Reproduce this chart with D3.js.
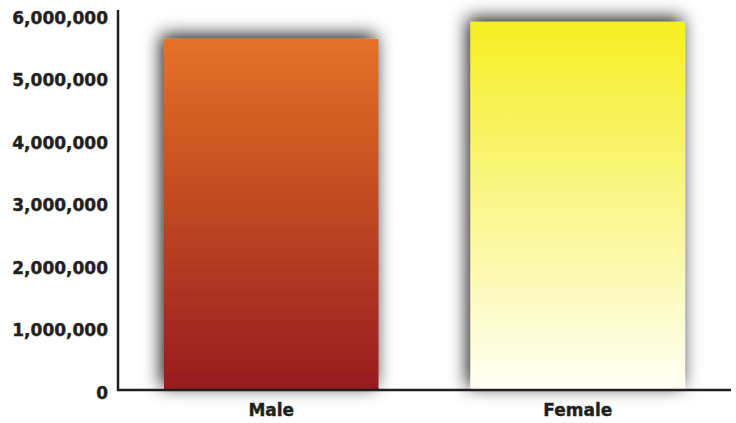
<!DOCTYPE html>
<html>
<head>
<meta charset="utf-8">
<script src="https://cdn.jsdelivr.net/npm/d3@7"></script>
<style>
  body { margin: 0; background: #fff; }
  .tick-label, .cat-label { font-family: "DejaVu Sans", sans-serif; font-weight: bold; fill: #231f20; }
</style>
</head>
<body>
<div class="container"></div>
<script>
// chart data
var categories = ['Male', 'Female'];
var population = [5620000, 5890000];
var tickValues = [0, 1000000, 2000000, 3000000, 4000000, 5000000, 6000000];
var gradients = [['#e57226', '#981b1f'], ['#f6ee22', '#fffff6']];

var width = 736, height = 423;

var svg = d3.select('.container').append('svg')
  .attr('width', width)
  .attr('height', height);

var defs = svg.append('defs');

// soft shadow round the bars, a little up and to the left
var shadow = defs.append('filter')
  .attr('id', 'barShadow')
  .attr('x', '-40%').attr('y', '-40%')
  .attr('width', '180%').attr('height', '180%');
shadow.append('feDropShadow')
  .attr('dx', -3).attr('dy', -4)
  .attr('stdDeviation', 9)
  .attr('flood-color', '#000')
  .attr('flood-opacity', 0.9);

gradients.forEach(function (g, i) {
  var lg = defs.append('linearGradient')
    .attr('id', 'grad' + i)
    .attr('x1', 0).attr('y1', 0).attr('x2', 0).attr('y2', 1);
  lg.append('stop').attr('offset', '0%').attr('stop-color', g[0]);
  lg.append('stop').attr('offset', '100%').attr('stop-color', g[1]);
});

var y = d3.scaleLinear().domain([0, 6000000]).range([390, 15]);
var x = d3.scaleBand().domain(categories).range([118, 731]).paddingInner(0.3).paddingOuter(0.15);

svg.selectAll('rect.bar')
  .data(categories)
  .enter()
  .append('rect')
  .attr('class', 'bar')
  .attr('x', function (d) { return x(d); })
  .attr('y', function (d, i) { return y(population[i]); })
  .attr('width', x.bandwidth())
  .attr('height', function (d, i) { return y(0) - y(population[i]); })
  .attr('fill', function (d, i) { return 'url(#grad' + i + ')'; })
  .attr('filter', 'url(#barShadow)');

// axis lines
svg.append('line')
  .attr('x1', 118).attr('x2', 118)
  .attr('y1', 10).attr('y2', 391)
  .attr('stroke', '#231f20').attr('stroke-width', 2.5);
svg.append('line')
  .attr('x1', 117).attr('x2', 731)
  .attr('y1', 390).attr('y2', 390)
  .attr('stroke', '#231f20').attr('stroke-width', 2.5);

var fmt = d3.format(',');
svg.selectAll('text.tick-label')
  .data(tickValues)
  .enter()
  .append('text')
  .attr('class', 'tick-label')
  .attr('x', 108)
  .attr('y', function (d) { return y(d) + 3; })
  .attr('dy', '0.35em')
  .attr('text-anchor', 'end')
  .style('font-size', '17px')
  .style('stroke', '#231f20').style('stroke-width', 0.4)
  .text(function (d) { return fmt(d); });

svg.selectAll('text.cat-label')
  .data(categories)
  .enter()
  .append('text')
  .attr('class', 'cat-label')
  .attr('x', function (d) { return x(d) + x.bandwidth() / 2; })
  .attr('y', 410)
  .attr('dy', '0.35em')
  .attr('text-anchor', 'middle')
  .style('font-size', '17px')
  .style('stroke', '#231f20').style('stroke-width', 0.4)
  .text(function (d) { return d; });
</script>
</body>
</html>
